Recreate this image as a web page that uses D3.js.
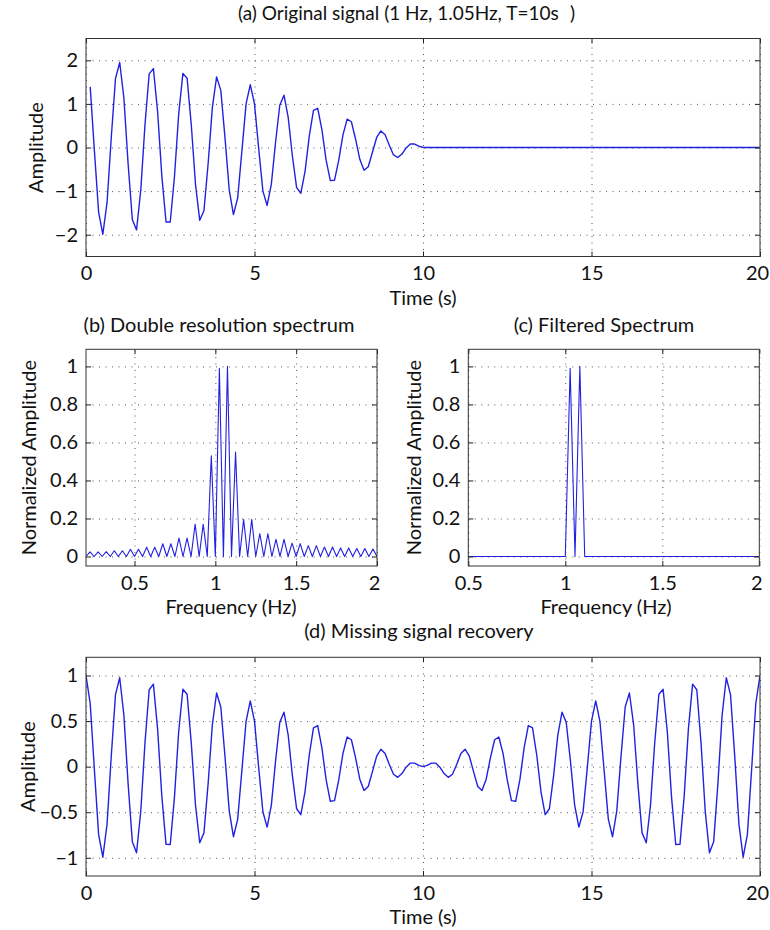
<!DOCTYPE html>
<html><head><meta charset="utf-8">
<script src="https://cdn.jsdelivr.net/npm/d3@7"></script>
<style>
body{margin:0;background:#fff}
svg text{font-family:Lato,"Open Sans",sans-serif;fill:#111}
</style>
</head><body>
<svg id="chart" width="770" height="930"></svg>
<script>
// ---------- data ----------
const sampleStep = 0.125; // seconds between samples

// (a) original signal, samples at t = 0.125, 0.25, ... 10 s
const originalValues = [1.39,-0.08,-1.49,-1.99,-1.26,0.23,1.58,1.95,1.13,-0.38,
  -1.65,-1.89,-0.98,0.52,1.69,1.81,0.82,-0.65,-1.71,-1.71,
  -0.67,0.76,1.70,1.59,0.51,-0.85,-1.67,-1.45,-0.36,0.92,
  1.62,1.31,0.22,-0.97,-1.54,-1.16,-0.09,1.00,1.44,1.00,
  -0.03,-1.00,-1.33,-0.84,0.12,0.97,1.20,0.69,-0.20,-0.92,
  -1.05,-0.55,0.26,0.85,0.90,0.41,-0.29,-0.76,-0.75,-0.29,
  0.29,0.65,0.59,0.19,-0.27,-0.52,-0.44,-0.11,0.23,0.38,
  0.29,0.05,-0.17,-0.23,-0.15,-0.01,0.08,0.08,0.03,0];
const paddingTimes = [10, 20];
const paddingValues = [0, 0];

// (b) double resolution spectrum
const spectrumFreqs = [0.2,0.225,0.25,0.275,0.3,0.325,0.35,0.375,0.4,0.425,0.45,0.475,0.5,0.525,0.55,0.575,0.6,0.625,0.65,0.675,0.7,0.725,0.75,0.775,0.8,0.825,0.85,0.875,0.9,0.925,0.95,0.975,1.0,1.025,1.05,1.075,1.1,1.125,1.15,1.175,1.2,1.225,1.25,1.275,1.3,1.325,1.35,1.375,1.4,1.425,1.45,1.475,1.5,1.525,1.55,1.575,1.6,1.625,1.65,1.675,1.7,1.725,1.75,1.775,1.8,1.825,1.85,1.875,1.9,1.925,1.95,1.975,2.0];
const spectrumValues = [0,0.024,0,0.024,0,0.026,0,0.03,0,0.03,0,0.038,0,0.038,0,0.049,0,0.049,0,0.067,0,0.067,0,0.097,0,0.097,0,0.17,0,0.17,0,0.53,0,0.99,0,1.0,0,0.55,0,0.195,0,0.195,0,0.12,0,0.12,0,0.09,0,0.09,0,0.07,0,0.068,0,0.057,0,0.057,0,0.05,0,0.05,0,0.045,0,0.045,0,0.042,0,0.042,0,0.04,0];

// (c) filtered spectrum
const filteredFreqs = [0.5, 1.0, 1.025, 1.05, 1.075, 1.1, 2.0];
const filteredValues = [0, 0, 0.99, 0, 1.0, 0, 0];

// (d) recovered signal, samples at t = 0, 0.125, ... 20 s
const recoveredValues = [1,0.693,-0.039,-0.746,-0.994,-0.631,0.117,0.790,0.976,0.563,
  -0.191,-0.823,-0.946,-0.489,0.261,0.844,0.905,0.412,-0.325,-0.853,
  -0.854,-0.334,0.380,0.850,0.794,0.256,-0.426,-0.835,-0.727,-0.181,
  0.462,0.808,0.655,0.109,-0.486,-0.769,-0.578,-0.044,0.498,0.721,
  0.5,-0.014,-0.498,-0.663,-0.422,0.062,0.486,0.598,0.346,-0.101,
  -0.462,-0.527,-0.273,0.128,0.426,0.451,0.206,-0.143,-0.380,-0.373,
  -0.146,0.146,0.325,0.295,0.096,-0.137,-0.261,-0.218,-0.055,0.116,
  0.191,0.144,0.024,-0.083,-0.117,-0.076,-0.006,0.039,0.039,0.014,
  0,
  0.014,0.039,0.039,-0.006,-0.076,-0.117,-0.083,0.024,0.144,0.191,
  0.116,-0.055,-0.218,-0.261,-0.137,0.096,0.295,0.325,0.146,-0.146,
  -0.373,-0.380,-0.143,0.206,0.451,0.426,0.128,-0.273,-0.527,-0.462,
  -0.101,0.346,0.598,0.486,0.062,-0.422,-0.663,-0.498,-0.014,0.5,
  0.721,0.498,-0.044,-0.578,-0.769,-0.486,0.109,0.655,0.808,0.462,
  -0.181,-0.727,-0.835,-0.426,0.256,0.794,0.850,0.380,-0.334,-0.854,
  -0.853,-0.325,0.412,0.905,0.844,0.261,-0.489,-0.946,-0.823,-0.191,
  0.563,0.976,0.790,0.117,-0.631,-0.994,-0.746,-0.039,0.693,1];

// ticks and labels
const timeTicks = [0, 5, 10, 15, 20];
const ampTicksA = [-2, -1, 0, 1, 2];
const ampTicksD = [-1, -0.5, 0, 0.5, 1];
const freqTicks = [0.5, 1, 1.5, 2];
const normTicks = [0, 0.2, 0.4, 0.6, 0.8, 1];
const titles = ["(a) Original signal (1 Hz, 1.05Hz, T=10s", "(b) Double resolution spectrum",
                "(c) Filtered Spectrum", "(d) Missing signal recovery"];
const titleTailA = ")";
const xLabels = ["Time (s)", "Frequency (Hz)"];
const yLabels = ["Amplitude", "Normalized Amplitude"];

// ---------- drawing ----------
const svg = d3.select("#chart");
svg.append("rect").attr("width",770).attr("height",930).attr("fill","#fff");
const FS = 20;
const fmt = d3.format("~g");
const lineColor = "#2121e0";
let clipId = 0;

function panel(o){
  const x = d3.scaleLinear().domain(o.xd).range([o.l, o.r]);
  const y = d3.scaleLinear().domain(o.yd).range([o.b, o.t]);
  const g = svg.append("g");
  const h = o.b - o.t, w = o.r - o.l;
  // grid
  const gx = g.append("g").attr("transform",`translate(0,${o.b})`)
    .call(d3.axisBottom(x).tickValues(o.xt).tickSize(-h).tickFormat(""));
  const gy = g.append("g").attr("transform",`translate(${o.l},0)`)
    .call(d3.axisLeft(y).tickValues(o.yt).tickSize(-w).tickFormat(""));
  [gx,gy].forEach(a=>{a.select(".domain").remove();
    a.selectAll("line").attr("stroke","#555").attr("stroke-width",1).attr("stroke-dasharray","1,5.5");});
  // data
  const id = "clip"+(clipId++);
  svg.append("clipPath").attr("id",id).append("rect").attr("x",o.l).attr("y",o.t).attr("width",w).attr("height",h);
  const line = d3.line().x(d=>x(d[0])).y(d=>y(d[1]));
  o.series.forEach(s=>{
    g.append("path").datum(s).attr("clip-path",`url(#${id})`)
      .attr("fill","none").attr("stroke",lineColor).attr("stroke-width",o.lw)
      .attr("stroke-linejoin","round").attr("d",line);
  });
  // axes with inward ticks
  const ax = g.append("g").attr("transform",`translate(0,${o.b})`)
    .call(d3.axisBottom(x).tickValues(o.xt).tickSize(-5).tickPadding(9.5).tickFormat(fmt));
  const ay = g.append("g").attr("transform",`translate(${o.l},0)`)
    .call(d3.axisLeft(y).tickValues(o.yt).tickSize(-5).tickPadding(8).tickFormat(fmt));
  const at = g.append("g").attr("transform",`translate(0,${o.t})`)
    .call(d3.axisTop(x).tickValues(o.xt).tickSize(-5).tickFormat(""));
  const ar = g.append("g").attr("transform",`translate(${o.r},0)`)
    .call(d3.axisRight(y).tickValues(o.yt).tickSize(-5).tickFormat(""));
  [ax,ay,at,ar].forEach(a=>{
    a.select(".domain").remove();
    a.selectAll("line").attr("stroke","#222").attr("stroke-width",1);
    a.selectAll("text").attr("font-size",FS).attr("font-family","Lato, 'Open Sans', sans-serif").attr("fill","#111");
  });
  if (o.yTickFS) ay.selectAll("text").attr("font-size",o.yTickFS);
  // keep the last x tick label inside the page
  ax.selectAll(".tick:last-of-type text").attr("dx",-3);
  g.append("rect").attr("x",o.l).attr("y",o.t).attr("width",w).attr("height",h)
    .attr("fill","none").attr("stroke","#333").attr("stroke-width",1);
  // labels
  g.append("text").attr("x",o.titleX).attr("y",o.titleY).attr("text-anchor",o.titleAnchor)
    .attr("font-size",o.titleFS||FS).text(o.title);
  if (o.titleTail) g.append("text").attr("x",o.tailX).attr("y",o.titleY)
    .attr("font-size",o.titleFS||FS).text(o.titleTail);
  g.append("text").attr("x",o.xlX).attr("y",o.b+48).attr("text-anchor","middle")
    .attr("font-size",FS).text(o.xlabel);
  g.append("text").attr("transform",`translate(${o.ylX},${(o.t+o.b)/2}) rotate(-90)`)
    .attr("text-anchor","middle").attr("font-size",FS).text(o.ylabel);
}

const sigA = originalValues.map((v,i)=>[(i+1)*sampleStep, v]);
const padA = paddingTimes.map((t,i)=>[t, paddingValues[i]]);
panel({l:86,r:760,t:38.5,b:256.5,xd:[0,20],yd:[-2.5,2.5],xt:timeTicks,yt:ampTicksA,
  series:[sigA,padA],lw:1.4,title:titles[0],titleFS:19,titleTail:titleTailA,tailX:570,titleX:238,titleY:20,titleAnchor:"start",
  xlabel:xLabels[0],xlX:423,ylabel:yLabels[0],ylX:43});

panel({l:86,r:377,t:349.3,b:566,xd:[0.2,2],yd:[-0.05,1.09],xt:freqTicks,yt:normTicks,
  series:[spectrumFreqs.map((f,i)=>[f,spectrumValues[i]])],lw:1.1,title:titles[1],titleX:219,titleY:332,titleAnchor:"middle",
  xlabel:xLabels[1],xlX:231,ylabel:yLabels[1],ylX:36});

panel({l:468.3,r:759.3,t:349.3,b:566,xd:[0.5,2],yd:[-0.05,1.09],xt:freqTicks,yt:normTicks,
  series:[filteredFreqs.map((f,i)=>[f,filteredValues[i]])],lw:1.1,title:titles[2],titleX:604,titleY:332,titleAnchor:"middle",
  xlabel:xLabels[1],xlX:606,ylabel:yLabels[1],ylX:421});

panel({l:86,r:760,t:657.3,b:876,xd:[0,20],yd:[-1.2,1.2],xt:timeTicks,yt:ampTicksD,yTickFS:19.5,
  series:[recoveredValues.map((v,i)=>[i*sampleStep, v])],lw:1.4,title:titles[3],titleX:419,titleY:638,titleAnchor:"middle",
  xlabel:xLabels[0],xlX:423,ylabel:yLabels[0],ylX:35});
</script>
</body></html>
